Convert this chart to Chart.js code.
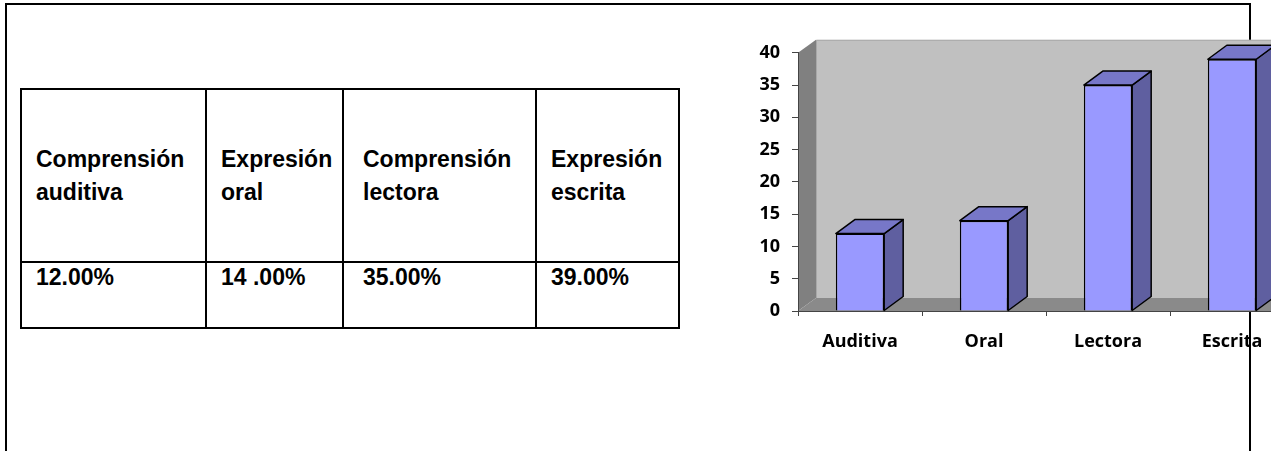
<!DOCTYPE html>
<html lang="es">
<head>
<meta charset="utf-8">
<title>Destrezas</title>
<script src="https://cdn.jsdelivr.net/npm/chart.js@4/dist/chart.umd.min.js"></script>
<style>
  html, body { margin: 0; padding: 0; background: #fff; }
  body { width: 1271px; height: 451px; overflow: hidden; position: relative; }
  .marco {
    position: absolute; left: 5px; top: 3px; width: 1246px; height: 600px;
    border: 2px solid #000; box-sizing: border-box;
  }
  .tabla {
    position: absolute; left: 20px; top: 88px;
    display: grid;
    grid-template-columns: 185px 137px 193px 143px;
    grid-template-rows: 173px 66px;
    border-left: 2px solid #000; border-top: 2px solid #000;
    font: bold 23px "Liberation Sans", Arial, sans-serif; color: #000;
  }
  .tabla div {
    box-sizing: border-box; border-right: 2px solid #000; border-bottom: 2px solid #000;
    padding-left: 14px;
  }
  .tabla .cab { display: flex; align-items: center; line-height: 33px; }
  .tabla .val { line-height: 26px; padding-top: 1px; }
  .tabla .c3 { padding-left: 19px; }
  #grafico { position: absolute; left: 740px; top: 30px; }
</style>
</head>
<body>
<div class="marco"></div>
<div class="tabla" id="tabla"></div>
<canvas id="grafico" width="560" height="330"></canvas>
<script>
// Datos
const categorias = ['Auditiva', 'Oral', 'Lectora', 'Escrita'];
const valores = [12, 14, 35, 39];
const encabezados = [
  ['Comprensión', 'auditiva'],
  ['Expresión', 'oral'],
  ['Comprensión', 'lectora'],
  ['Expresión', 'escrita']
];
const porcentajes = ['12.00%', '14 .00%', '35.00%', '39.00%'];
const ejeMax = 40;
const ejePaso = 5;

// Tabla de porcentajes
const tabla = document.getElementById('tabla');
encabezados.forEach((lineas, i) => {
  tabla.innerHTML += `<div class="cab c${i + 1}"><span>${lineas.join('<br>')}</span></div>`;
});
porcentajes.forEach((p, i) => {
  tabla.innerHTML += `<div class="val c${i + 1}">${p}</div>`;
});

// Paredes y suelo en 3D
const paredes = {
  id: 'paredes',
  beforeDraw(chart) {
    const { ctx, chartArea: a } = chart;
    const dx = 18, dy = -13;
    ctx.save();
    // fondo
    ctx.fillStyle = '#c0c0c0';
    ctx.fillRect(a.left + dx, a.top + dy, a.right - a.left + 20, a.bottom - a.top);
    ctx.strokeStyle = '#a8a8a8';
    ctx.lineWidth = 1;
    ctx.beginPath();
    ctx.moveTo(a.left + dx + 0.5, a.bottom + dy);
    ctx.lineTo(a.left + dx + 0.5, a.top + dy + 0.5);
    ctx.lineTo(a.right + dx + 20, a.top + dy + 0.5);
    ctx.stroke();
    // lateral
    ctx.fillStyle = '#808080';
    ctx.beginPath();
    ctx.moveTo(a.left, a.top);
    ctx.lineTo(a.left + dx, a.top + dy);
    ctx.lineTo(a.left + dx, a.bottom + dy);
    ctx.lineTo(a.left, a.bottom);
    ctx.closePath();
    ctx.fill();
    // suelo
    ctx.fillStyle = '#8a8a8a';
    ctx.beginPath();
    ctx.moveTo(a.left, a.bottom);
    ctx.lineTo(a.left + dx, a.bottom + dy);
    ctx.lineTo(a.right + dx + 20, a.bottom + dy);
    ctx.lineTo(a.right + 20, a.bottom);
    ctx.closePath();
    ctx.fill();
    ctx.restore();
  }
};

// Caras superior y lateral de cada barra
const barras3d = {
  id: 'barras3d',
  afterDatasetsDraw(chart) {
    const { ctx } = chart;
    const dx = 19, dy = -14;
    ctx.save();
    ctx.lineWidth = 1.5;
    ctx.strokeStyle = '#000';
    ctx.lineJoin = 'round';
    chart.getDatasetMeta(0).data.forEach(bar => {
      const l = bar.x - bar.width / 2, r = bar.x + bar.width / 2;
      const t = bar.y, b = bar.base;
      ctx.fillStyle = '#5f5fa0';
      ctx.beginPath();
      ctx.moveTo(r, t);
      ctx.lineTo(r + dx, t + dy);
      ctx.lineTo(r + dx, b + dy);
      ctx.lineTo(r, b);
      ctx.closePath();
      ctx.fill();
      ctx.stroke();
      ctx.fillStyle = '#7777c8';
      ctx.beginPath();
      ctx.moveTo(l, t);
      ctx.lineTo(l + dx, t + dy);
      ctx.lineTo(r + dx, t + dy);
      ctx.lineTo(r, t);
      ctx.closePath();
      ctx.fill();
      ctx.stroke();
    });
    ctx.restore();
  }
};

const fuente = { family: '"Open Sans", sans-serif', size: 18, weight: 'bold' };

const ctx = document.getElementById('grafico').getContext('2d');
const grafico = new Chart(ctx, {
  type: 'bar',
  data: {
    labels: categorias,
    datasets: [{
      data: valores,
      backgroundColor: '#9999ff',
      borderColor: '#000',
      borderWidth: 1.5,
      categoryPercentage: 1,
      barPercentage: 0.39
    }]
  },
  options: {
    responsive: false,
    animation: false,
    layout: { padding: { top: 21, right: 6, left: 0, bottom: 0 } },
    plugins: {
      legend: { display: false },
      tooltip: { enabled: false }
    },
    scales: {
      x: {
        offset: true,
        grid: { offset: true, drawOnChartArea: false, tickLength: 5, color: '#444' },
        border: { color: '#444' },
        ticks: { font: fuente, color: '#000', padding: 15, maxRotation: 0 },
        afterFit(s) { s.height = 49; }
      },
      y: {
        min: 0,
        max: ejeMax,
        ticks: { stepSize: ejePaso, font: fuente, color: '#000', padding: 12 },
        grid: { drawOnChartArea: false, tickLength: 6, color: '#444' },
        border: { color: '#444' },
        afterFit(s) { s.width = 58; }
      }
    }
  },
  plugins: [paredes, barras3d]
});
</script>
</body>
</html>
